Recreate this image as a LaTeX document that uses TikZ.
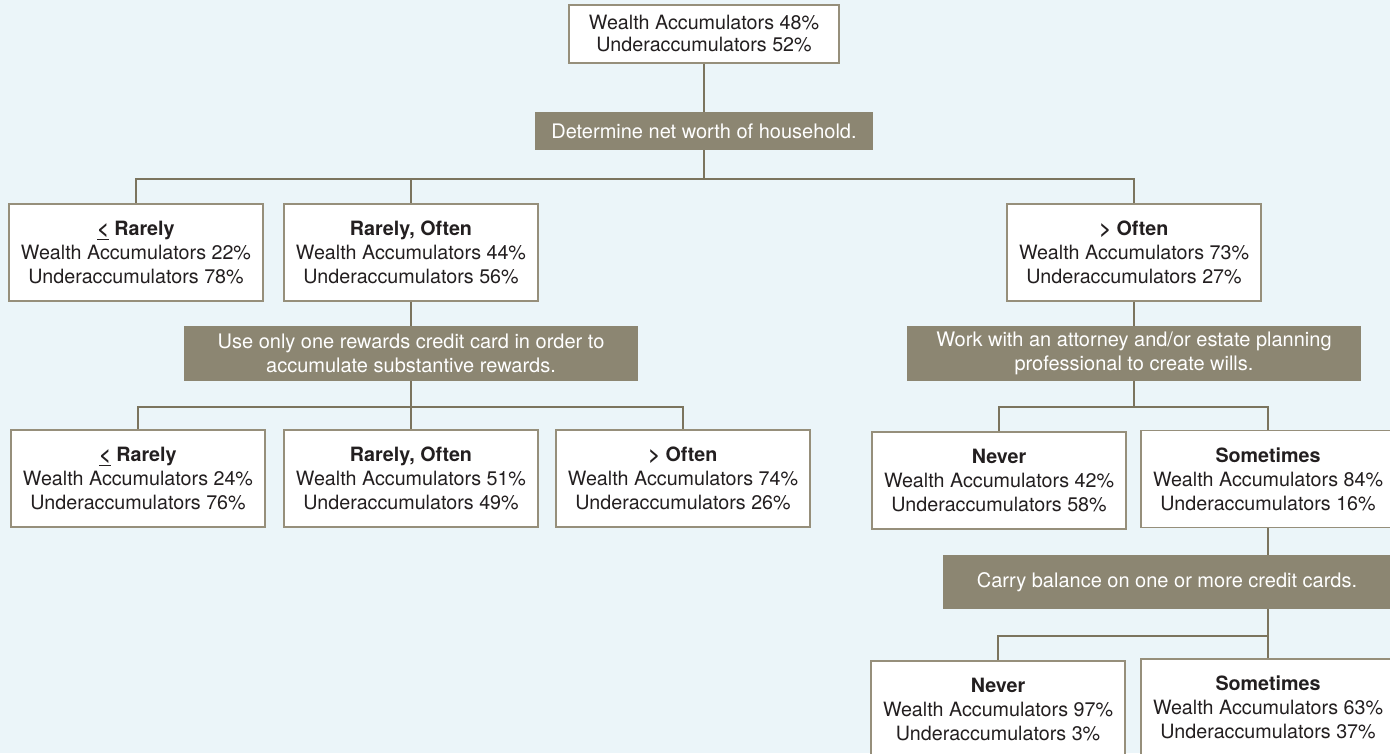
\documentclass[tikz,border=0pt]{standalone}
\usepackage{fontspec}
\setmainfont{TeX Gyre Heros}
\usepackage{tikz}
\usetikzlibrary{calc}
\definecolor{bgblue}{HTML}{EBF5F9}
\definecolor{linkcol}{HTML}{7B745E}
\definecolor{boxline}{HTML}{968F7B}
\definecolor{askfill}{HTML}{8C8672}
\definecolor{textgray}{HTML}{231F20}

\begin{document}
\begin{tikzpicture}[x=1pt,y=-1pt,
    result/.style={draw=boxline,line width=1.3pt,fill=white,text=textgray,align=center,
        minimum width=254pt,minimum height=97pt,inner sep=0pt,
        font=\fontsize{19.7}{24}\selectfont},
    ask/.style={fill=askfill,text=white,align=center,inner sep=0pt,
        font=\fontsize{20}{24}\selectfont},
    link/.style={draw=linkcol,line width=2.2pt}]
    % Draw background
    \fill[bgblue] (0,0) rectangle (1390,753);
    \useasboundingbox (0,0) rectangle (1390,753);
    \clip (0,0) rectangle (1390,753);

    % Top of the tree
    \node[result,minimum width=270pt,minimum height=58pt,
        font=\fontsize{19.7}{22}\selectfont] (top) at (704,34)
        {Wealth Accumulators 48\%\\Underaccumulators 52\%};
    \node[ask,minimum width=338pt,minimum height=38pt] (d1) at (704,131)
        {Determine net worth of household.};
    \coordinate (j1) at (704,179);

    % First split
    \node[result] (l1a) at (136,252.5)
        {\textbf{\underline{<} Rarely}\\Wealth Accumulators 22\%\\Underaccumulators 78\%};
    \node[result] (l1b) at (411,252.5)
        {\textbf{Rarely, Often}\\Wealth Accumulators 44\%\\Underaccumulators 56\%};
    \node[result] (l1c) at (1134,252.5)
        {\textbf{> Often}\\Wealth Accumulators 73\%\\Underaccumulators 27\%};

    % Left branch
    \node[ask,minimum width=454pt,minimum height=55pt] (d2) at (411,353.5)
        {Use only one rewards credit card in order to\\accumulate substantive rewards.};
    \coordinate (j2) at (411,407);
    \node[result] (l2a) at (138,478.5)
        {\textbf{\underline{<} Rarely}\\Wealth Accumulators 24\%\\Underaccumulators 76\%};
    \node[result] (l2b) at (411,478.5)
        {\textbf{Rarely, Often}\\Wealth Accumulators 51\%\\Underaccumulators 49\%};
    \node[result] (l2c) at (683,478.5)
        {\textbf{> Often}\\Wealth Accumulators 74\%\\Underaccumulators 26\%};

    % Right branch
    \node[ask,minimum width=454pt,minimum height=55pt] (d3) at (1134,353.5)
        {Work with an attorney and/or estate planning\\professional to create wills.};
    \coordinate (j3) at (1134,407);
    \node[result] (l3a) at (999,480.5)
        {\textbf{Never}\\Wealth Accumulators 42\%\\Underaccumulators 58\%};
    \node[result] (l3b) at (1268,479)
        {\textbf{Sometimes}\\Wealth Accumulators 84\%\\Underaccumulators 16\%};
    \node[ask,minimum width=448pt,minimum height=54pt] (d4) at (1167,582)
        {Carry balance on one or more credit cards.};
    \coordinate (j4) at (1268,636);
    \node[result] (l4a) at (998,709.5)
        {\textbf{Never}\\Wealth Accumulators 97\%\\Underaccumulators 3\%};
    \node[result] (l4b) at (1268,707.5)
        {\textbf{Sometimes}\\Wealth Accumulators 63\%\\Underaccumulators 37\%};

    % Draw connectors
    \draw[link] (top) -- (d1);
    \draw[link] (d1.south) -- (j1);
    \draw[link] (j1) -| (l1a.north);
    \draw[link] (j1) -| (l1b.north);
    \draw[link] (j1) -| (l1c.north);
    \draw[link] (l1b.south) -- (d2.north);
    \draw[link] (d2.south) -- (j2);
    \draw[link] (j2) -| (l2a.north);
    \draw[link] (j2) -- (l2b.north);
    \draw[link] (j2) -| (l2c.north);
    \draw[link] (l1c.south) -- (d3.north);
    \draw[link] (d3.south) -- (j3);
    \draw[link] (j3) -| (l3a.north);
    \draw[link] (j3) -| (l3b.north);
    \draw[link] (l3b.south) -- (l3b.south |- d4.north);
    \draw[link] (l3b |- d4.south) -- (j4);
    \draw[link] (j4) -| (l4a.north);
    \draw[link] (j4) -- (l4b.north);
\end{tikzpicture}
\end{document}
